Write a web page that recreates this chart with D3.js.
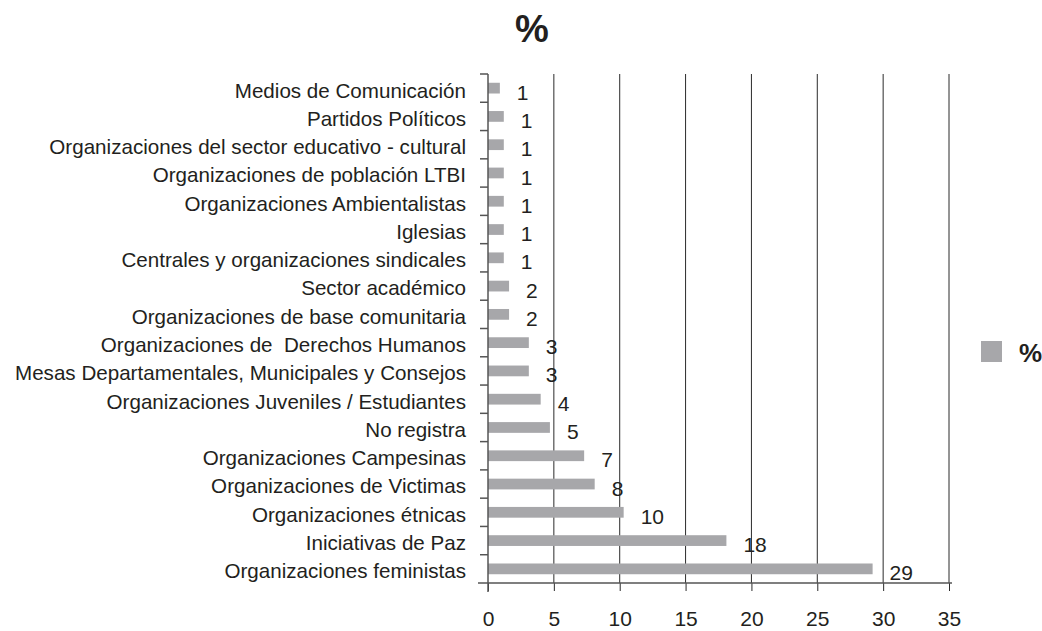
<!DOCTYPE html>
<html>
<head>
<meta charset="utf-8">
<script src="https://cdn.jsdelivr.net/npm/d3@7"></script>
<style>
  body { margin: 0; background: #fff; overflow: hidden; }
  text { font-family: "Liberation Sans", Arial, Helvetica, sans-serif; fill: #231f20; white-space: pre; }
</style>
</head>
<body>
<div id="chart"></div>
<script>
// categories, top to bottom as in the chart
var categories = [
  'Medios de Comunicación',
  'Partidos Políticos',
  'Organizaciones del sector educativo - cultural',
  'Organizaciones de población LTBI',
  'Organizaciones Ambientalistas',
  'Iglesias',
  'Centrales y organizaciones sindicales',
  'Sector académico',
  'Organizaciones de base comunitaria',
  'Organizaciones de  Derechos Humanos',
  'Mesas Departamentales, Municipales y Consejos',
  'Organizaciones Juveniles / Estudiantes',
  'No registra',
  'Organizaciones Campesinas',
  'Organizaciones de Victimas',
  'Organizaciones étnicas',
  'Iniciativas de Paz',
  'Organizaciones feministas'
];
var values = [0.9, 1.2, 1.2, 1.2, 1.2, 1.2, 1.2, 1.6, 1.6, 3.1, 3.1, 4.0, 4.7, 7.3, 8.1, 10.3, 18.1, 29.2];
var valueLabels = ['1', '1', '1', '1', '1', '1', '1', '2', '2', '3', '3', '4', '5', '7', '8', '10', '18', '29'];
var xTicks = [0, 5, 10, 15, 20, 25, 30, 35];
var seriesName = '%';

var frame = { width: 1042, height: 631 },
  plot = { left: 488, right: 949, top: 74, bottom: 583 },
  barColor = '#a7a7aa',
  gridColor = '#2b2b2b',
  axisColor = '#555';

var svg = d3.select('#chart').append('svg')
  .attr('width', frame.width)
  .attr('height', frame.height)
  .style('display', 'block');

var x = d3.scaleLinear()
  .domain([0, 35])
  .range([plot.left, plot.right]);

var y = d3.scaleBand()
  .domain(categories)
  .range([plot.top, plot.bottom]);

var barH = y.bandwidth() * 0.38;

// title
svg.append('text')
  .attr('x', 532)
  .attr('y', 42)
  .attr('text-anchor', 'middle')
  .style('font-size', '38px')
  .style('font-weight', 'bold')
  .text(seriesName);

// vertical grid lines
svg.append('g')
  .selectAll('line')
  .data(xTicks.slice(1))
  .enter().append('line')
  .attr('x1', function (d) { return x(d); })
  .attr('x2', function (d) { return x(d); })
  .attr('y1', plot.top)
  .attr('y2', plot.bottom)
  .attr('stroke', gridColor)
  .attr('stroke-width', 1);

// bars
svg.append('g')
  .selectAll('rect')
  .data(values)
  .enter().append('rect')
  .attr('x', x(0))
  .attr('y', function (d, i) { return y(categories[i]) + (y.bandwidth() - barH) / 2; })
  .attr('width', function (d) { return x(d) - x(0); })
  .attr('height', barH)
  .attr('fill', barColor);

// value labels
svg.append('g')
  .selectAll('text')
  .data(values)
  .enter().append('text')
  .attr('x', function (d) { return x(d) + 17; })
  .attr('y', function (d, i) { return y(categories[i]) + y.bandwidth() / 2 + 4; })
  .attr('dy', '0.36em')
  .style('font-size', '21px')
  .text(function (d, i) { return valueLabels[i]; });

// x axis
var xAxis = svg.append('g')
  .attr('transform', 'translate(0,' + plot.bottom + ')')
  .call(d3.axisBottom(x).tickValues(xTicks).tickSize(8).tickSizeOuter(0).tickPadding(20));
xAxis.select('.domain').remove();
xAxis.selectAll('.tick line').attr('stroke', gridColor);
xAxis.selectAll('.tick text')
  .style('font-size', '21px')
  .attr('fill', '#231f20');
xAxis.append('line')
  .attr('x1', x(0) - 10)
  .attr('x2', x(35) + 3)
  .attr('stroke', axisColor)
  .attr('stroke-width', 1.5);

// y axis: line, ticks at category boundaries, labels
var yAxis = svg.append('g');
yAxis.append('line')
  .attr('x1', x(0)).attr('x2', x(0))
  .attr('y1', plot.top).attr('y2', plot.bottom + 9)
  .attr('stroke', axisColor)
  .attr('stroke-width', 1.5);
var bounds = categories.map(function (c) { return y(c); });
yAxis.selectAll('line.tick')
  .data(bounds)
  .enter().append('line')
  .attr('class', 'tick')
  .attr('x1', x(0) - 8).attr('x2', x(0))
  .attr('y1', function (d) { return d; })
  .attr('y2', function (d) { return d; })
  .attr('stroke', axisColor)
  .attr('stroke-width', 1.5);
yAxis.selectAll('text')
  .data(categories)
  .enter().append('text')
  .attr('x', x(0) - 22)
  .attr('y', function (d) { return y(d) + y.bandwidth() / 2 + 2; })
  .attr('dy', '0.36em')
  .attr('text-anchor', 'end')
  .style('font-size', '20.6px')
  .text(function (d) { return d; });

// legend
var legend = svg.append('g').attr('transform', 'translate(981,341)');
legend.append('rect')
  .attr('width', 21)
  .attr('height', 21)
  .attr('fill', barColor);
legend.append('text')
  .attr('x', 38)
  .attr('y', 21)
  .style('font-size', '26px')
  .style('font-weight', 'bold')
  .text(seriesName);
</script>
</body>
</html>
